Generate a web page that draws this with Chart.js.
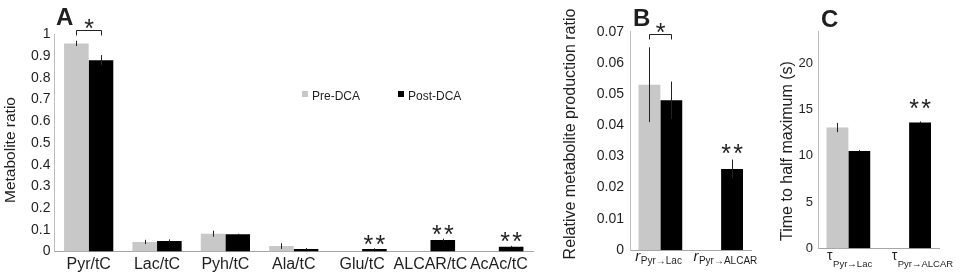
<!DOCTYPE html>
<html>
<head>
<meta charset="utf-8">
<script src="https://cdn.jsdelivr.net/npm/chart.js@4.4.1/dist/chart.umd.min.js"></script>
<style>
  body { margin: 0; background: #fff; }
  #wrap { position: relative; width: 970px; height: 276px; overflow: hidden; }
  canvas { position: absolute; top: 0; }
</style>
</head>
<body>
<div id="wrap">
  <canvas id="chartA" width="560" height="276" style="left:0px"></canvas>
  <canvas id="chartB" width="215" height="276" style="left:545px"></canvas>
  <canvas id="chartC" width="210" height="276" style="left:760px"></canvas>
</div>
<script>
// ---- data: panel A (metabolite ratios) ----
const labelsA = ['Pyr/tC', 'Lac/tC', 'Pyh/tC', 'Ala/tC', 'Glu/tC', 'ALCAR/tC', 'AcAc/tC'];
const preA = [0.959, 0.044, 0.082, 0.025, 0, 0, 0];
const postA = [0.881, 0.048, 0.079, 0.011, 0.011, 0.053, 0.022];
const preErrA = [0.012, 0.010, 0.014, 0.013, 0, 0, 0];
const postErrA = [0.024, 0.008, 0.003, 0.005, 0.004, 0.006, 0.004];
const pairSigA = [0];          // "*" bracket between pre/post
const postSigA = [4, 5, 6];    // "**" over post bar

// ---- data: panel B (relative production ratio) ----
const labelsB = ['Pyr\u2192Lac', 'Pyr\u2192ALCAR'];
const preB = [0.053, 0];
const postB = [0.048, 0.026];
const preErrB = [0.012, 0];
const postErrB = [0.006, 0.003];
const pairSigB = [0];
const postSigB = [1];

// ---- data: panel C (time to half maximum) ----
const labelsC = ['Pyr\u2192Lac', 'Pyr\u2192ALCAR'];
const preC = [13.05, 0];
const postC = [10.5, 13.6];
const preErrC = [0.5, 0];
const postErrC = [0.12, 0.1];
const pairSigC = [];
const postSigC = [1];

const FONT = "'Liberation Sans', Arial, Helvetica, sans-serif";
const GRAY = '#c8c8c8';
const INK = '#1f1f1f';

function drawStars(ctx, n, cx, cy) {
  ctx.font = '25px ' + FONT;
  ctx.textAlign = 'center';
  ctx.textBaseline = 'alphabetic';
  for (let k = 0; k < n; k++) {
    ctx.fillText('*', cx + (k - (n - 1) / 2) * 12, cy + 14.5);
  }
}

// error bars, significance marks, panel letter, axis title, legend, sub labels
const extras = {
  id: 'extras',
  afterDatasetsDraw(chart, args, opts) {
    const ctx = chart.ctx;
    const ys = chart.scales.y;
    ctx.save();
    ctx.strokeStyle = '#222';
    ctx.lineWidth = 1;
    opts.errors.forEach((errs, i) => {
      const meta = chart.getDatasetMeta(i);
      const vals = chart.data.datasets[i].data;
      errs.forEach((e, j) => {
        if (!e) return;
        const x = Math.round(meta.data[j].x) + 0.5;
        ctx.beginPath();
        ctx.moveTo(x, ys.getPixelForValue(vals[j] + e));
        ctx.lineTo(x, ys.getPixelForValue(Math.max(0, vals[j] - e)));
        ctx.stroke();
      });
    });
    ctx.restore();
  },
  afterDraw(chart, args, opts) {
    const ctx = chart.ctx;
    const ys = chart.scales.y;
    const ds = chart.data.datasets;
    const m0 = chart.getDatasetMeta(0), m1 = chart.getDatasetMeta(1);
    ctx.save();
    ctx.fillStyle = INK;
    ctx.strokeStyle = '#222';
    ctx.lineWidth = 1;

    // bracket + single star
    opts.pairSig.forEach(j => {
      const x1 = Math.round(m0.data[j].x) + 0.5, x2 = Math.round(m1.data[j].x) + 0.5;
      const top = Math.min(
        ys.getPixelForValue(ds[0].data[j] + opts.errors[0][j]),
        ys.getPixelForValue(ds[1].data[j] + opts.errors[1][j])) - opts.bracketGap;
      const yb = Math.round(top) + 0.5;
      ctx.beginPath();
      ctx.moveTo(x1, yb + 5); ctx.lineTo(x1, yb); ctx.lineTo(x2, yb); ctx.lineTo(x2, yb + 5);
      ctx.stroke();
      drawStars(ctx, 1, (x1 + x2) / 2, top - opts.starGap);
    });

    // double stars over post bars
    opts.postSig.forEach(j => {
      const yTop = ys.getPixelForValue(ds[1].data[j] + opts.errors[1][j]);
      drawStars(ctx, 2, m1.data[j].x, yTop - opts.sigGap);
    });

    // panel letter
    ctx.font = 'bold 24px ' + FONT;
    ctx.textAlign = 'left';
    ctx.textBaseline = 'alphabetic';
    ctx.fillText(opts.letter.text, opts.letter.x, opts.letter.y);

    // y axis title
    ctx.save();
    ctx.font = opts.yTitle.size + 'px ' + FONT;
    ctx.textAlign = 'center';
    ctx.translate(opts.yTitle.x, opts.yTitle.y);
    ctx.rotate(-Math.PI / 2);
    ctx.fillText(opts.yTitle.text, 0, 0);
    ctx.restore();

    // legend inside the plot
    if (opts.legend) {
      ctx.font = '12px ' + FONT;
      ctx.textAlign = 'left';
      ds.forEach((d, i) => {
        const lx = opts.legend.x[i];
        ctx.fillStyle = d.backgroundColor;
        ctx.fillRect(lx, opts.legend.y - 8.5, 6, 6);
        ctx.fillStyle = INK;
        ctx.fillText(d.label, lx + 10, opts.legend.y);
      });
    }

    // category labels with subscripts
    if (opts.sub) {
      const s = opts.sub;
      const xs = chart.scales.x;
      chart.data.labels.forEach((lab, i) => {
        ctx.font = s.mainFont;
        const w1 = ctx.measureText(s.symbol).width;
        ctx.font = s.subFont;
        const w2 = ctx.measureText(lab).width;
        const x0 = xs.getPixelForValue(i) + s.shift[i] - (w1 + w2) / 2;
        ctx.textAlign = 'left';
        ctx.font = s.mainFont;
        ctx.fillText(s.symbol, x0, s.mainY);
        ctx.font = s.subFont;
        ctx.fillText(lab, x0 + w1 + 0.5, s.subY);
      });
    }
    ctx.restore();
  }
};

function yAxis(max, step, width, pad, size) {
  return {
    min: 0,
    max: max,
    ticks: {
      stepSize: step, padding: pad, color: INK, font: { family: FONT, size: size },
      callback: v => String(Number(v.toFixed(4)))
    },
    grid: { display: false, drawTicks: false },
    border: { display: true, color: '#bdbdbd' },
    afterBuildTicks: s => {
      s.ticks = s.ticks.filter(t => Math.abs(t.value / step - Math.round(t.value / step)) < 1e-6);
    },
    afterFit: s => { s.width = width; }
  };
}

function xAxis(height, showTicks) {
  return {
    ticks: {
      display: showTicks, padding: 3, color: INK, font: { family: FONT, size: 16 },
      autoSkip: false, maxRotation: 0, minRotation: 0
    },
    grid: { display: false, drawTicks: false },
    border: { display: true, color: '#a6a6a6' },
    afterFit: s => { s.height = height; }
  };
}

function bars(pre, post) {
  return [
    { label: 'Pre-DCA', data: pre, backgroundColor: GRAY, categoryPercentage: 0.72, barPercentage: 1 },
    { label: 'Post-DCA', data: post, backgroundColor: '#000', categoryPercentage: 0.72, barPercentage: 1 }
  ];
}

function makeChart(id, labels, pre, post, scales, padding, extra) {
  return new Chart(document.getElementById(id), {
    type: 'bar',
    data: { labels: labels, datasets: bars(pre, post) },
    options: {
      responsive: false,
      animation: false,
      layout: { padding: padding },
      scales: scales,
      plugins: { legend: { display: false }, tooltip: { enabled: false }, extras: extra }
    },
    plugins: [extras]
  });
}

makeChart('chartA', labelsA, preA, postA,
  { x: xAxis(24.5, true), y: yAxis(1, 0.1, 54.5, 4, 14) },
  { top: 34.5, right: 27, bottom: 0, left: 0 },
  {
    errors: [preErrA, postErrA], pairSig: pairSigA, postSig: postSigA,
    bracketGap: 11, starGap: 7.5, sigGap: 10,
    letter: { text: 'A', x: 56, y: 25 },
    yTitle: { text: 'Metabolite ratio', x: 15, y: 150, size: 15.5 },
    legend: { x: [302, 398], y: 99.5 }
  });

makeChart('chartB', labelsB, preB, postB,
  { x: xAxis(26, false), y: yAxis(0.07, 0.01, 85, 6, 14) },
  { top: 31.7, right: 8.5, bottom: 0, left: 0 },
  {
    errors: [preErrB, postErrB], pairSig: pairSigB, postSig: postSigB,
    bracketGap: 13.5, starGap: 7, sigGap: 12,
    letter: { text: 'B', x: 88, y: 26 },
    yTitle: { text: 'Relative metabolite production ratio', x: 29.5, y: 134, size: 16 },
    sub: { symbol: 'r', mainFont: 'italic 15px ' + FONT, subFont: '10px ' + FONT, mainY: 261, subY: 264, shift: [-2, 4] }
  });

makeChart('chartC', labelsC, preC, postC,
  { x: xAxis(27.7, false), y: yAxis(23.4, 5, 58, 5, 13) },
  { top: 31.7, right: 30.5, bottom: 0, left: 0 },
  {
    errors: [preErrC, postErrC], pairSig: pairSigC, postSig: postSigC,
    bracketGap: 12, starGap: 6, sigGap: 19,
    letter: { text: 'C', x: 61, y: 27 },
    yTitle: { text: 'Time to half maximum (s)', x: 31.5, y: 151, size: 16 },
    sub: { symbol: '\u03c4', mainFont: '14px ' + FONT, subFont: '9.5px ' + FONT, mainY: 260, subY: 267, shift: [1, 13] }
  });
</script>
</body>
</html>
